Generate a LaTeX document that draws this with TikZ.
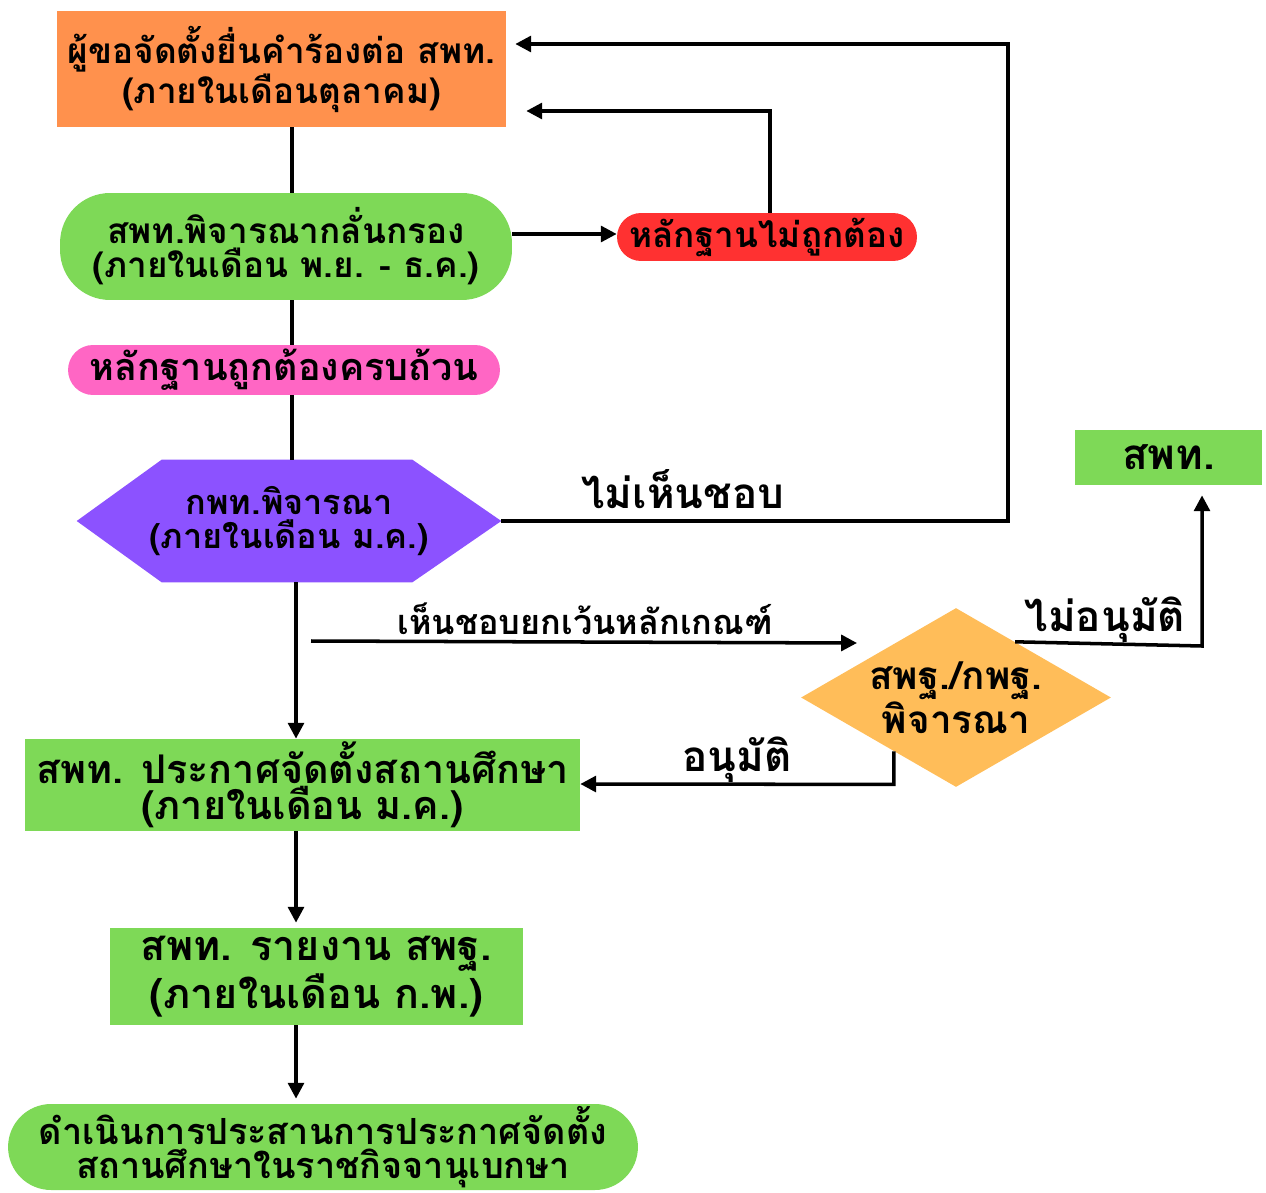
\documentclass[tikz,border=0pt]{standalone}
\usepackage{fontspec}
\newfontfamily\thaifont[Script=Thai]{Loma}
\newcommand\thfs[2]{\thaifont\bfseries\fontsize{#1}{#2}\selectfont}
\usetikzlibrary{shapes.geometric,arrows.meta,backgrounds,calc}
\definecolor{corange}{HTML}{FF914D}
\definecolor{cgreen}{HTML}{7ED957}
\definecolor{cred}{HTML}{FF3131}
\definecolor{cpink}{HTML}{FF66C4}
\definecolor{cpurple}{HTML}{8C52FF}
\definecolor{cyellow}{HTML}{FFBD59}
\begin{document}
\begin{tikzpicture}[x=0.02cm,y=-0.02cm,
  box/.style={inner sep=0pt, align=center},
  lbl/.style={inner sep=0pt, font=\thfs{24}{26}},
  conn/.style={line width=2pt},
  arr/.style={conn,-{Triangle[length=9pt,width=9pt]}},
]
\useasboundingbox (0,0) rectangle (1266,1192);

% nodes
\node[box, font=\thfs{20}{19.5}, fill=corange, minimum width=8.98cm, minimum height=2.32cm] (req) at (281.5,69)
  {ผู้ขอจัดตั้งยื่นคำร้องต่อ สพท.\\(ภายในเดือนตุลาคม)};
\node[box, font=\thfs{20}{19.5}, fill=cgreen, minimum width=9.04cm, minimum height=2.14cm, rounded corners=1.0cm] (screen) at (286,246.5)
  {สพท.พิจารณากลั่นกรอง\\(ภายในเดือน พ.ย. - ธ.ค.)};
\node[box, font=\thfs{20}{21}, fill=cred, minimum width=6.0cm, minimum height=0.96cm, rounded corners=0.48cm] (bad) at (767,237)
  {หลักฐานไม่ถูกต้อง};
\node[box, font=\thfs{21.5}{22}, fill=cpink, minimum width=8.64cm, minimum height=1.0cm, rounded corners=0.5cm] (good) at (284,370)
  {หลักฐานถูกต้องครบถ้วน};
\node[box, font=\thfs{19.5}{19}, minimum width=8.48cm, minimum height=2.44cm] (kpt) at (289,521)
  {กพท.พิจารณา\\(ภายในเดือน ม.ค.)};
\node[box, font=\thfs{22}{17.5}, fill=cyellow, shape=diamond, minimum width=6.2cm, minimum height=3.58cm, aspect=1.73] (dia) at (956,697.5)
  {สพฐ./กพฐ.\\พิจารณา};
\node[box, font=\thfs{24}{24}, fill=cgreen, minimum width=3.74cm, minimum height=1.1cm] (spt) at (1168.5,457.5)
  {สพท.};
\node[box, font=\thfs{22.5}{20.5}, fill=cgreen, minimum width=11.1cm, minimum height=1.84cm] (ann) at (302.5,785)
  {สพท. ประกาศจัดตั้งสถานศึกษา\\(ภายในเดือน ม.ค.)};
\node[box, font=\thfs{23.5}{21.5}, fill=cgreen, minimum width=8.26cm, minimum height=1.94cm] (rep) at (316.5,976.5)
  {สพท. รายงาน สพฐ.\\(ภายในเดือน ก.พ.)};
\node[box, font=\thfs{20.5}{19.5}, fill=cgreen, minimum width=12.6cm, minimum height=1.72cm, rounded corners=0.86cm] (fin) at (323,1147)
  {ดำเนินการประสานการประกาศจัดตั้ง\\สถานศึกษาในราชกิจจานุเบกษา};

\begin{scope}[on background layer]
\fill[cpurple] (kpt.west) -- ([xshift=1.7cm]kpt.north west) -- ([xshift=-1.78cm]kpt.north east)
  -- (kpt.east) -- ([xshift=-1.78cm]kpt.south east) -- ([xshift=1.7cm]kpt.south west) -- cycle;
\end{scope}

% coordinates
\coordinate (vx) at (292,0);
\coordinate (vx2) at (296,0);
\coordinate (exs) at (311,641);
\coordinate (exe) at (857,643);
\coordinate (cA) at (770,111);
\coordinate (cB) at (1008,44);
\coordinate (cC) at (1202,646);

% labels
\node[lbl] (l1) at (683,489) {ไม่เห็นชอบ};
\node[inner sep=0pt, font=\thfs{19.5}{20}] (l2) at (585,619) {เห็นชอบยกเว้นหลักเกณฑ์};
\node[lbl] (l3) at (1105,620) {ไม่อนุมัติ};
\node[lbl] (l4) at (737,760) {อนุมัติ};

% connectors
\draw[conn] (req.south -| vx) -- (screen.north -| vx);
\draw[conn] (screen.south -| vx) -- (good.north -| vx);
\draw[conn] (good.south -| vx) -- (kpt.north -| vx);
\draw[arr] (kpt.south -| vx2) -- (ann.north -| vx2);
\draw[arr] (ann.south -| vx2) -- ([yshift=0.1cm]rep.north -| vx2);
\draw[arr] (rep.south -| vx2) -- ([yshift=0.1cm]fin.north -| vx2);
\draw[arr] (screen.east |- 0,234) -- (bad.west |- 0,234);
\draw[arr, shorten >=0.4cm] (bad.north -| cA) -- (cA) -- (req.east |- cA);
\draw[arr, shorten >=0.18cm] (kpt.east) -- (kpt.east -| cB) -- (cB) -- (req.east |- cB);
\draw[arr] (exs) -- (exe);
\draw[arr, shorten >=0.2cm] ($(dia.north)!0.38!(dia.east)$) -- (cC) -- (spt.south -| cC);
\draw[arr] ($(dia.west)!0.6!(dia.south)$) -- ++(0,33) -- (ann.east |- 0,784);
\end{tikzpicture}
\end{document}
